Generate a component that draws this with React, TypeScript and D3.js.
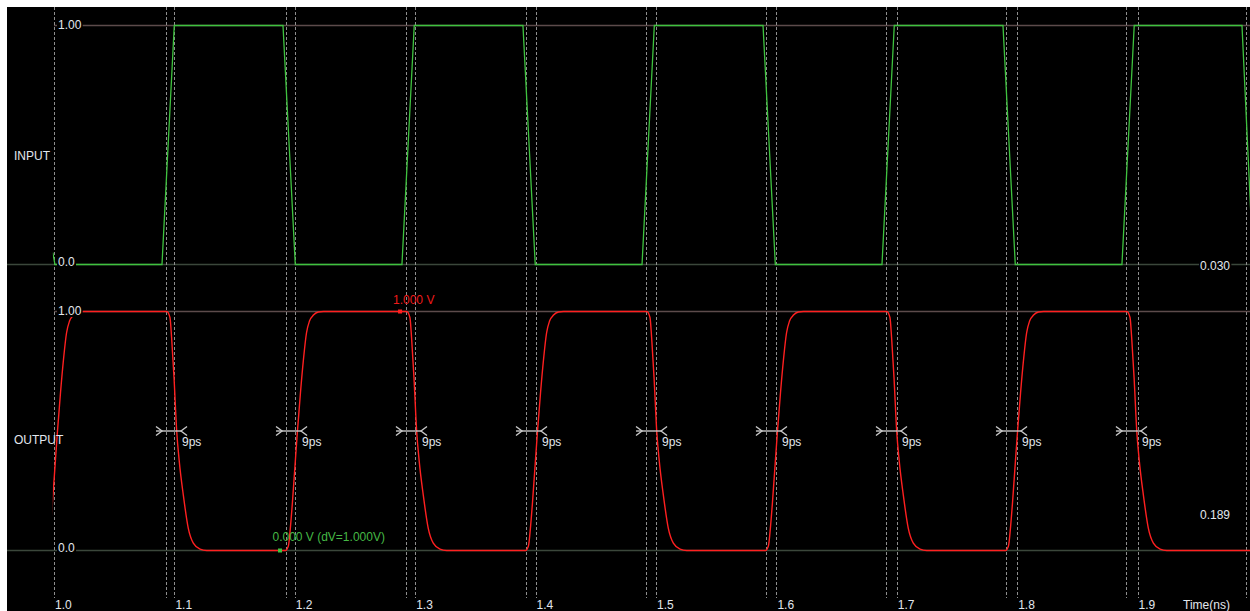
import React, { useEffect, useRef } from "react";
import * as d3 from "d3";

// time axis (ns)
const timeTicks = [1.0, 1.1, 1.2, 1.3, 1.4, 1.5, 1.6, 1.7, 1.8, 1.9];
const tickLabels = ["1.0", "1.1", "1.2", "1.3", "1.4", "1.5", "1.6", "1.7", "1.8", "1.9"];

// measurement cursor lines (ns)
const cursorTimes = [1.093, 1.1927, 1.2924, 1.392, 1.4917, 1.5914, 1.691, 1.7907, 1.8904, 1.99];

// INPUT waveform corner points [time ns, volts]
const inputKnots: [number, number][] = [
  [0.999, 0.05], [1.0008, 0],
  [1.0897, 0], [1.0999, 1], [1.1902, 1], [1.2004, 0],
  [1.289, 0], [1.2992, 1], [1.3895, 1], [1.3997, 0],
  [1.4884, 0], [1.4986, 1], [1.5889, 1], [1.5991, 0],
  [1.6877, 0], [1.6979, 1], [1.7882, 1], [1.7984, 0],
  [1.887, 0], [1.8972, 1], [1.9867, 1], [1.996, 0],
];

// OUTPUT 50% crossing times (ns)
const outputRises = [1.0029, 1.2022, 1.4016, 1.6009, 1.8003];
const outputFalls = [1.1019, 1.3012, 1.5006, 1.6999, 1.8993];

const riseShape: [number, number][] = [
  [-10, 0], [-7.5, 0.02], [-5.8, 0.1], [-4.2, 0.2], [-2.1, 0.35], [0, 0.5],
  [2.5, 0.66], [5, 0.8], [7.5, 0.91], [10, 0.96], [13.3, 0.985], [17.4, 0.998], [21.6, 1],
];
const fallShape: [number, number][] = [
  [-8.3, 1], [-5.6, 0.975], [-4.2, 0.889], [-2.2, 0.722], [0, 0.5], [2.2, 0.37],
  [5.5, 0.232], [9.6, 0.094], [13.8, 0.031], [19.4, 0.006], [24.9, 0],
];

// delay measurement markers (ns)
const delayStarts = [1.0897, 1.1894, 1.289, 1.3887, 1.4884, 1.588, 1.6877, 1.7874, 1.887];
const delayEnds = [1.1055, 1.2052, 1.3048, 1.4045, 1.5042, 1.6038, 1.7035, 1.8032, 1.9028];
const delayLabel = "9ps";

const signalNames = ["INPUT", "OUTPUT"];
const levelLabels = ["1.00", "0.0"];
const rightValues = ["0.030", "0.189"];

const W = 1250;
const H = 611;
const FONT = "'Liberation Sans', Arial, sans-serif";
const TEXT = "#e2e7ee";

const App = () => {
  const svgRef = useRef<SVGSVGElement>(null);

  useEffect(() => {
    const svg = d3.select(svgRef.current);
    svg.selectAll("*").remove();

    const x = d3.scaleLinear().domain([1.0, 2.0]).range([54, 1258]);
    const yIn = d3.scaleLinear().domain([0, 1]).range([264.5, 25.5]);
    const yOut = d3.scaleLinear().domain([0, 1]).range([550.5, 311.5]);

    // black panel
    svg.append("rect").attr("x", 7).attr("y", 7).attr("width", W - 7).attr("height", H - 7).attr("fill", "#000");

    svg
      .append("clipPath")
      .attr("id", "plotclip")
      .append("rect")
      .attr("x", x(0.999))
      .attr("y", 7)
      .attr("width", W - x(0.999))
      .attr("height", H - 7);

    // level lines
    [yIn, yOut].forEach((y) => {
      svg.append("line")
        .attr("x1", x(1.0)).attr("x2", W)
        .attr("y1", y(1)).attr("y2", y(1))
        .attr("stroke", "#5c4b4b").attr("stroke-width", 1.3);
      svg.append("line")
        .attr("x1", 7).attr("x2", W)
        .attr("y1", y(0)).attr("y2", y(0))
        .attr("stroke", "#3b473b").attr("stroke-width", 1.3);
    });

    // grid + cursor dashed lines
    const dashed = svg.append("g").attr("stroke", "#8e8e8e").attr("stroke-width", 1).attr("stroke-dasharray", "3,2");
    [...timeTicks, ...cursorTimes].forEach((t) => {
      dashed.append("line")
        .attr("x1", Math.round(x(t)) + 0.5).attr("x2", Math.round(x(t)) + 0.5)
        .attr("y1", 7).attr("y2", 598);
    });

    // waveforms
    const wave = svg.append("g").attr("clip-path", "url(#plotclip)");
    wave.append("path")
      .datum(inputKnots)
      .attr("fill", "none")
      .attr("stroke", "#3fc23f")
      .attr("stroke-width", 1.3)
      .attr("d", d3.line<[number, number]>().x((d) => x(d[0])).y((d) => yIn(d[1])));

    const outPts: [number, number][] = [];
    outputRises.forEach((t) => riseShape.forEach(([ps, v]) => outPts.push([t + ps / 1000, v])));
    outputFalls.forEach((t) => fallShape.forEach(([ps, v]) => outPts.push([t + ps / 1000, v])));
    outPts.push([2.0, 0]);
    outPts.sort((a, b) => a[0] - b[0]);
    wave.append("path")
      .datum(outPts)
      .attr("fill", "none")
      .attr("stroke", "#ff2020")
      .attr("stroke-width", 1.4)
      .attr("d", d3.line<[number, number]>().x((d) => x(d[0])).y((d) => yOut(d[1])).curve(d3.curveMonotoneX));

    // labels with black background
    const boxedText = (tx: number, ty: number, label: string) => {
      const g = svg.append("g");
      const rect = g.append("rect").attr("fill", "#000");
      const text = g.append("text")
        .attr("x", tx).attr("y", ty)
        .attr("fill", TEXT)
        .style("font-family", FONT)
        .style("font-size", "12px")
        .text(label);
      const bb = (text.node() as SVGTextElement).getBBox();
      rect.attr("x", bb.x - 1).attr("y", bb.y + 2).attr("width", bb.width + 2).attr("height", bb.height - 3);
    };

    [yIn, yOut].forEach((y) => {
      boxedText(58, y(1) + 3.5, levelLabels[0]);
      boxedText(58, y(0) + 1.5, levelLabels[1]);
    });
    boxedText(1200, yIn(0) + 5, rightValues[0]);

    svg.append("text")
      .attr("x", 1200).attr("y", 519)
      .attr("fill", TEXT)
      .style("font-family", FONT).style("font-size", "12px")
      .text(rightValues[1]);

    signalNames.forEach((name, i) => {
      svg.append("text")
        .attr("x", 14).attr("y", i === 0 ? 159.5 : 443.5)
        .attr("fill", TEXT)
        .style("font-family", FONT).style("font-size", "12px")
        .text(name);
    });

    // delay markers
    const my = yOut(0.5);
    delayStarts.forEach((t0, i) => {
      const a = x(t0);
      const b = x(delayEnds[i]);
      const g = svg.append("g").attr("stroke", "#c8c8c8").attr("stroke-width", 1.4).attr("fill", "none");
      g.append("line").attr("x1", a - 6).attr("x2", b).attr("y1", my).attr("y2", my);
      g.append("path").attr("d", `M${a - 6},${my - 4.5}L${a},${my}L${a - 6},${my + 4.5}`);
      g.append("path").attr("d", `M${b + 6},${my - 4.5}L${b},${my}L${b + 6},${my + 4.5}`);
      svg.append("text")
        .attr("x", b + 1).attr("y", my + 14.5)
        .attr("fill", TEXT)
        .style("font-family", FONT).style("font-size", "12px")
        .text(delayLabel);
    });

    // value annotations
    svg.append("rect").attr("x", x(1.2874) - 2).attr("y", yOut(1) - 2).attr("width", 4).attr("height", 4).attr("fill", "#ff2020");
    svg.append("text")
      .attr("x", x(1.2874) - 7).attr("y", yOut(1) - 8)
      .attr("fill", "#ee1a1a")
      .style("font-family", FONT).style("font-size", "12px")
      .text("1.000 V");

    svg.append("rect").attr("x", x(1.1877) - 2).attr("y", yOut(0) - 2).attr("width", 4).attr("height", 4).attr("fill", "#3fc23f");
    svg.append("text")
      .attr("x", x(1.1877) - 7.5).attr("y", yOut(0) - 9.5)
      .attr("fill", "#45b845")
      .style("font-family", FONT).style("font-size", "12px")
      .text("0.000 V (dV=1.000V)");

    // time axis labels
    timeTicks.forEach((t, i) => {
      svg.append("text")
        .attr("x", x(t) + 1).attr("y", 609)
        .attr("fill", TEXT)
        .style("font-family", FONT).style("font-size", "12px")
        .text(tickLabels[i]);
    });
    svg.append("text")
      .attr("x", 1183).attr("y", 609)
      .attr("fill", TEXT)
      .style("font-family", FONT).style("font-size", "12px")
      .text("Time(ns)");
  }, []);

  return (
    <svg
      ref={svgRef}
      width={W}
      height={H}
      style={{ position: "absolute", left: 0, top: 0, background: "#fff" }}
    />
  );
};

export default App;
